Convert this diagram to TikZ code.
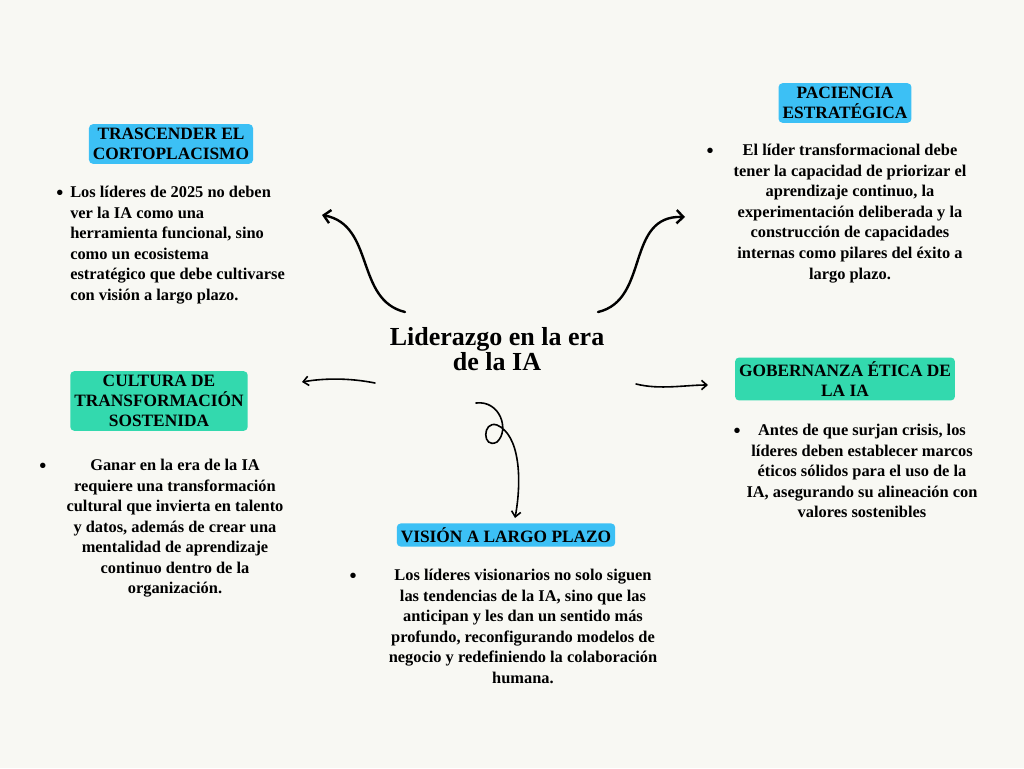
\documentclass[tikz,border=0pt]{standalone}
\usepackage{fontspec}
\setmainfont{Liberation Serif}
\usetikzlibrary{arrows.meta}
\definecolor{bg}{HTML}{F8F8F3}
\definecolor{tblue}{HTML}{3CC0F5}
\definecolor{tgreen}{HTML}{33D9AE}
\tikzset{
  head/.style={fill=#1,rounded corners=3pt,inner sep=3pt,align=center,font=\fontsize{13}{15}\selectfont\bfseries},
  body/.style={align=#1,font=\fontsize{12.3}{15.4}\selectfont\bfseries,inner sep=0pt},
  bul/.style={font=\fontsize{15}{14}\selectfont\bfseries,inner sep=0pt},
  arr/.style={line width=1.8pt,line cap=round,-{Straight Barb[length=5pt,width=10pt]}},
  arrt/.style={line width=1.2pt,line cap=round,-{Straight Barb[length=4pt,width=7pt]}}
}
\begin{document}
\begin{tikzpicture}[x=0.75pt,y=-0.75pt]
\fill[bg] (0,0) rectangle (1024,768);
\useasboundingbox (0,0) rectangle (1024,768);
\node[font=\fontsize{19.5}{17.5}\selectfont\bfseries,align=center] (title) at (497,349) {Liderazgo en la era\\de la IA};

\node[head=tblue] (h1) at (171,144) {TRASCENDER EL\\CORTOPLACISMO};
\node[head=tblue] (h2) at (845,103) {PACIENCIA\\ESTRATÉGICA};
\node[head=tgreen] (h3) at (159,401) {CULTURA DE\\TRANSFORMACIÓN\\SOSTENIDA};
\node[head=tgreen] (h4) at (845,379) {GOBERNANZA ÉTICA DE\\LA IA};
\node[head=tblue] (h5) at (506,535) {VISIÓN A LARGO PLAZO};

\node[bul] (b1) at (60,195) {•};
\node[body=left,anchor=north west] (t1) at (70,186) {Los líderes de 2025 no deben\\ver la IA como una\\herramienta funcional, sino\\como un ecosistema\\estratégico que debe cultivarse\\con visión a largo plazo.};
\node[bul] (b2) at (710,153) {•};
\node[body=center,anchor=north] (t2) at (850,144) {El líder transformacional debe\\tener la capacidad de priorizar el\\aprendizaje continuo, la\\experimentación deliberada y la\\construcción de capacidades\\internas como pilares del éxito a\\largo plazo.};
\node[bul] (b3) at (43,468) {•};
\node[body=center,anchor=north] (t3) at (175,459) {Ganar en la era de la IA\\requiere una transformación\\cultural que invierta en talento\\y datos, además de crear una\\mentalidad de aprendizaje\\continuo dentro de la\\organización.};
\node[bul] (b4) at (737,433) {•};
\node[body=center,anchor=north] (t4) at (862,424) {Antes de que surjan crisis, los\\líderes deben establecer marcos\\éticos sólidos para el uso de la\\IA, asegurando su alineación con\\valores sostenibles};
\node[bul] (b5) at (353,578) {•};
\node[body=center,anchor=north] (t5) at (523,569) {Los líderes visionarios no solo siguen\\las tendencias de la IA, sino que las\\anticipan y les dan un sentido más\\profundo, reconfigurando modelos de\\negocio y redefiniendo la colaboración\\humana.};

\coordinate (a1s) at (405,312); \coordinate (a1e) at (322,215);
\coordinate (a2s) at (598,312); \coordinate (a2e) at (685,217);
\coordinate (a3s) at (375,383); \coordinate (a3e) at (302,382);
\coordinate (a4s) at (636,384); \coordinate (a4e) at (708,385);
\coordinate (a5s) at (476,403); \coordinate (a5e) at (515,518);
\draw[arr] (a1s) .. controls (355,300) and (375,225) .. (a1e);
\draw[arr] (a2s) .. controls (650,300) and (625,215) .. (a2e);
\draw[arrt] (a3s) .. controls (350,378) and (325,378) .. (a3e);
\draw[arrt] (a4s) .. controls (660,390) and (685,385) .. (a4e);
\draw[arrt] (a5s) .. controls (500,400) and (510,430) .. (497,442)
  .. controls (482,450) and (482,420) .. (497,425)
  .. controls (520,435) and (522,480) .. (a5e);
\end{tikzpicture}
\end{document}
